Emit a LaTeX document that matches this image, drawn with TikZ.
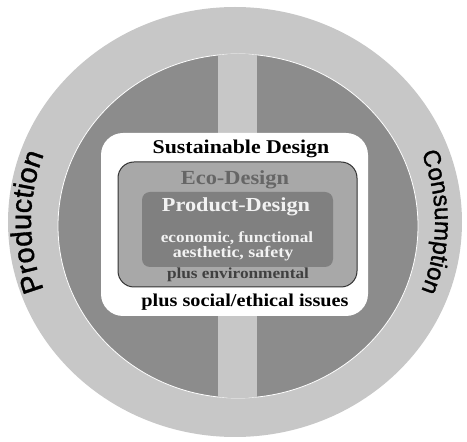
\documentclass[tikz,border=0pt]{standalone}
\usepackage{fontspec}
\setmainfont{Liberation Serif}[FakeStretch=1.12]
\newfontfamily\sidefont{Liberation Sans}[FakeBold=1.2]
\usepackage{tikz}
\usetikzlibrary{decorations.text}

\definecolor{ringgray}{gray}{0.78}
\definecolor{coregray}{gray}{0.55}
\definecolor{ecogray}{gray}{0.66}
\definecolor{prodgray}{gray}{0.50}

\begin{document}
\begin{tikzpicture}[x=1pt,y=1pt,
    box/.style={rounded corners=#1,inner sep=0pt},
    lbl/.style={font=\bfseries,inner sep=0pt}]
  \useasboundingbox (0,0) rectangle (467,442);
  % outer ring and inner disc, split by a light band
  \fill[ringgray] (235,220) ellipse [x radius=227,y radius=215];
  \fill[coregray,draw=white,line width=0.8pt] (238,216) ellipse [x radius=180,y radius=172];
  \begin{scope}
    \clip (238,216) ellipse [x radius=180,y radius=172];
    \fill[ringgray] (218,0) rectangle (257,442);
  \end{scope}
  % nested boxes
  \node[box=22pt,fill=white,minimum width=267pt,minimum height=183pt](sus)at(234.5,217.5){};
  \node[box=16pt,fill=ecogray,draw=black!80,line width=1pt,minimum width=239pt,minimum height=125pt](eco)at(237.5,217.5){};
  \node[box=8pt,fill=prodgray,minimum width=191pt,minimum height=75pt](prod)at(237.5,212.5){};
  % labels
  \node[lbl,font=\bfseries\fontsize{19.5}{21}\selectfont](sustxt)at(241,293){Sustainable Design};
  \node[lbl,text=black!60,font=\bfseries\fontsize{20}{22}\selectfont](ecotxt)at(235,262){Eco-Design};
  \node[lbl,text=white!95!black,font=\bfseries\fontsize{19.9}{22}\selectfont](prodtxt)at(236,235){Product-Design};
  \node[lbl,text=white!95!black,font=\bfseries\fontsize{15.4}{17}\selectfont](econ)at(237,204){economic, functional};
  \node[lbl,text=white!95!black,font=\bfseries\fontsize{16}{17}\selectfont](aest)at(233,188){aesthetic, safety};
  \node[lbl,text=black!75,font=\bfseries\fontsize{15.4}{17}\selectfont](env)at(238,167){plus environmental};
  \node[lbl,font=\bfseries\fontsize{18.1}{20}\selectfont](soc)at(245,140){plus social/ethical issues};
  % curved side labels
  \path[decorate,decoration={text along path,text align=center,
      text={|\sidefont\fontsize{29}{30}\selectfont|Production}}]
    (235,220) ++(207:204 and 193) arc [start angle=207,end angle=153,x radius=204,y radius=193];
  \path[decorate,decoration={text along path,text align=center,
      text={|\sidefont\fontsize{24}{25}\selectfont|Consumption}}]
    (235,220) ++(28:200 and 189) arc [start angle=28,end angle=-28,x radius=200,y radius=189];
\end{tikzpicture}
\end{document}
